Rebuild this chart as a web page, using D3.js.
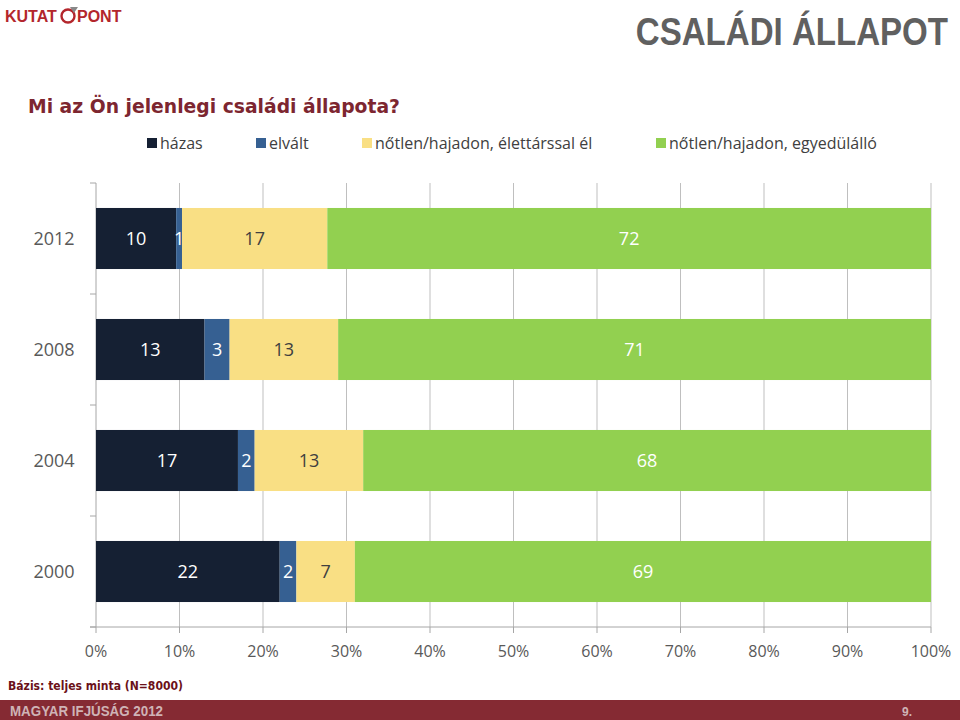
<!DOCTYPE html>
<html><head><meta charset="utf-8">
<script src="https://cdn.jsdelivr.net/npm/d3@7"></script>
<style>
html,body{margin:0;padding:0;background:#fff;}
svg{display:block;}
</style></head>
<body>
<svg id="chart" width="960" height="720"></svg>
<script>
// ---- data ----
const years = ["2012", "2008", "2004", "2000"];
const seriesNames = ["házas", "elvált", "nőtlen/hajadon, élettárssal él", "nőtlen/hajadon, egyedülálló"];
const hazas      = [9.6, 13, 17, 22];
const elvalt     = [0.7, 3, 2, 2];
const elettars   = [17.4, 13, 13, 7];
const egyedul    = [72.3, 71, 68, 69];
const labelHazas    = ["10", "13", "17", "22"];
const labelElvalt   = ["1", "3", "2", "2"];
const labelElettars = ["17", "13", "13", "7"];
const labelEgyedul  = ["72", "71", "68", "69"];
const xTicks = [0, 10, 20, 30, 40, 50, 60, 70, 80, 90, 100];

const colors = ["#152033", "#366092", "#f9df84", "#92d050"];
const labelColors = ["#ffffff", "#ffffff", "#404040", "#ffffff"];

const keys = ["s0", "s1", "s2", "s3"];
const valueArrays = [hazas, elvalt, elettars, egyedul];
const labelArrays = [labelHazas, labelElvalt, labelElettars, labelEgyedul];
const rows = years.map((yr, i) => {
  const r = {year: yr};
  keys.forEach((k, j) => r[k] = valueArrays[j][i]);
  return r;
});

const svg = d3.select("#chart");
const numFont = "'Open Sans', 'DejaVu Sans', sans-serif";

// ---- header ----
const logo = svg.append("g").attr("transform", "translate(5,22)");
logo.append("text").attr("x", 0).attr("y", 0)
  .attr("font-family", "'Liberation Sans', Arial, sans-serif").attr("font-weight", "bold")
  .attr("font-size", 16).attr("fill", "#b3262c").text("KUTAT");
logo.append("circle").attr("cx", 63).attr("cy", -6).attr("r", 6.5)
  .attr("fill", "none").attr("stroke", "#b3262c").attr("stroke-width", 2.4);
logo.append("path").attr("d", "M65,-15 L73,-15 L69,-9 Z").attr("fill", "#888");
logo.append("text").attr("x", 72).attr("y", 0)
  .attr("font-family", "'Liberation Sans', Arial, sans-serif").attr("font-weight", "bold")
  .attr("font-size", 16).attr("fill", "#b3262c").text("PONT");

svg.append("text").attr("transform", "translate(948,45) scale(0.87,1)").attr("text-anchor", "end")
  .attr("font-family", "'Liberation Sans', Arial, sans-serif").attr("font-weight", "bold")
  .attr("font-size", 38).attr("fill", "#606060")
  .text("CSALÁDI ÁLLAPOT");

svg.append("text").attr("x", 28).attr("y", 113)
  .attr("font-family", "'DejaVu Sans', sans-serif").attr("font-weight", "bold")
  .attr("font-size", 19).attr("fill", "#7d2630")
  .attr("textLength", 372).attr("lengthAdjust", "spacingAndGlyphs")
  .text("Mi az Ön jelenlegi családi állapota?");

// ---- legend ----
const legendX = [147, 256, 362, 656];
const legend = svg.append("g");
seriesNames.forEach((name, i) => {
  const g = legend.append("g").attr("transform", `translate(${legendX[i]},143)`);
  g.append("rect").attr("x", 0).attr("y", -5).attr("width", 10).attr("height", 10).attr("fill", colors[i]);
  g.append("text").attr("x", 13).attr("y", 0).attr("dy", "0.35em")
    .attr("font-family", numFont).attr("font-size", 16).attr("fill", "#404040").text(name);
});

// ---- chart ----
const pLeft = 96, pRight = 931, pTop = 183, pBottom = 627;
const x = d3.scaleLinear().domain([0, 100]).range([pLeft, pRight]);
const y = d3.scaleBand().domain(years).range([pTop, pBottom]).paddingInner(0.45).paddingOuter(0.225);
const yOuter = d3.scaleBand().domain(years).range([pTop, pBottom]);

// gridlines
svg.append("g").selectAll("line").data(xTicks.slice(1)).join("line")
  .attr("x1", d => x(d)).attr("x2", d => x(d)).attr("y1", pTop).attr("y2", pBottom)
  .attr("stroke", "#bfbfbf").attr("stroke-width", 1);

// left axis
svg.append("line").attr("x1", pLeft).attr("x2", pLeft).attr("y1", pTop).attr("y2", pBottom)
  .attr("stroke", "#a6a6a6");
const bounds = years.map(d => yOuter(d)).concat([pBottom]);
svg.append("g").selectAll("line").data(bounds).join("line")
  .attr("x1", pLeft - 6).attr("x2", pLeft).attr("y1", d => d).attr("y2", d => d)
  .attr("stroke", "#a6a6a6");

// bottom axis
svg.append("line").attr("x1", pLeft - 6).attr("x2", pRight).attr("y1", pBottom).attr("y2", pBottom)
  .attr("stroke", "#a6a6a6");
svg.append("g").selectAll("line").data(xTicks).join("line")
  .attr("x1", d => x(d)).attr("x2", d => x(d)).attr("y1", pBottom).attr("y2", pBottom + 6)
  .attr("stroke", "#a6a6a6");
svg.append("g").selectAll("text").data(xTicks).join("text")
  .attr("x", d => x(d)).attr("y", 651).attr("dy", "0.35em").attr("text-anchor", "middle")
  .attr("font-family", numFont).attr("font-size", 16).attr("fill", "#595959")
  .text(d => d + "%");

// year labels
svg.append("g").selectAll("text").data(years).join("text")
  .attr("x", 54).attr("y", d => y(d) + y.bandwidth() / 2).attr("dy", "0.35em")
  .attr("text-anchor", "middle").attr("font-family", numFont).attr("font-size", 18)
  .attr("fill", "#595959").text(d => d);

// bars
const stacked = d3.stack().keys(keys)(rows);
stacked.forEach((layer, j) => {
  const g = svg.append("g");
  g.selectAll("rect").data(layer).join("rect")
    .attr("x", d => x(d[0])).attr("width", d => x(d[1]) - x(d[0]))
    .attr("y", d => y(d.data.year)).attr("height", y.bandwidth())
    .attr("fill", colors[j]);
  g.selectAll("text").data(layer).join("text")
    .attr("x", d => (x(d[0]) + x(d[1])) / 2)
    .attr("y", d => y(d.data.year) + y.bandwidth() / 2).attr("dy", "0.35em")
    .attr("text-anchor", "middle").attr("font-family", numFont).attr("font-size", 18)
    .attr("fill", labelColors[j])
    .text((d, i) => labelArrays[j][i]);
});

// ---- footer ----
svg.append("text").attr("x", 8).attr("y", 690)
  .attr("font-family", "'DejaVu Sans', sans-serif").attr("font-weight", "bold")
  .attr("font-size", 13).attr("fill", "#6b1119")
  .attr("textLength", 175).attr("lengthAdjust", "spacingAndGlyphs")
  .text("Bázis: teljes minta (N=8000)");
svg.append("rect").attr("x", 0).attr("y", 700).attr("width", 960).attr("height", 20).attr("fill", "#852a33");
svg.append("text").attr("x", 10).attr("y", 716)
  .attr("font-family", "'Liberation Sans', Arial, sans-serif").attr("font-weight", "bold")
  .attr("font-size", 14).attr("fill", "#cfb3b6")
  .attr("textLength", 153).attr("lengthAdjust", "spacingAndGlyphs")
  .text("MAGYAR IFJÚSÁG 2012");
svg.append("text").attr("x", 902).attr("y", 716)
  .attr("font-family", "'Liberation Sans', Arial, sans-serif").attr("font-weight", "bold")
  .attr("font-size", 12).attr("fill", "#cfb3b6").text("9.");
</script>
</body></html>
